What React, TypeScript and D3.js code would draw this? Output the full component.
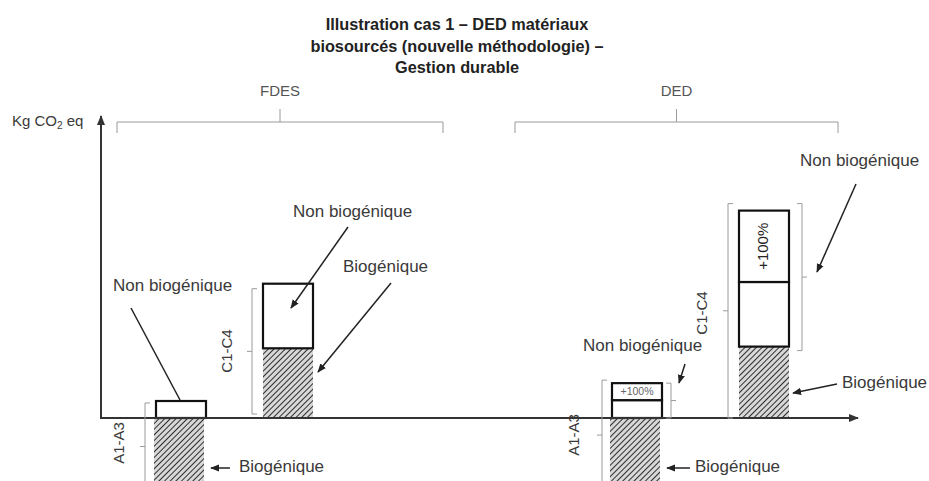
import React from 'react';
import * as d3 from 'd3';

// categories: phases grouped by declaration type
const groups = ['FDES', 'DED'];
const categories = ['FDES A1-A3', 'FDES C1-C4', 'DED A1-A3', 'DED C1-C4'];
const phaseLabels = ['A1-A3', 'C1-C4', 'A1-A3', 'C1-C4'];
// values in kg CO2 eq (illustrative)
const biogenic = [-4.2, 4.1, -4.2, 4.2];
const nonBiogenic = [1, 3.8, 1.05, 3.8];
const plus100 = [0, 0, 1, 4.2];
const titleLines = ['Illustration cas 1 – DED matériaux', 'biosourcés (nouvelle méthodologie) –', 'Gestion durable'];

const W = 929;
const H = 481;
const FONT = "'Liberation Sans', Arial, sans-serif";
const TXT = '#3a3a3a';
const GRAY = '#9a9a9a';

const App = () => {
  const x = d3.scaleOrdinal<string, number>().domain(categories).range([181, 288, 637, 764]);
  const y = d3.scaleLinear().domain([0, 17.5]).range([418, 120.5]);
  const gx = d3.scaleOrdinal<string, [number, number]>().domain(groups).range([[117, 443], [515, 838]]);
  const barW = 50;

  const bars = categories.map((c, i) => {
    const cx = x(c);
    const bio = biogenic[i];
    const base = bio > 0 ? bio : 0;
    const nbTop = base + nonBiogenic[i];
    const pTop = nbTop + plus100[i];
    return { c, i, cx, bio, base, nbTop, pTop };
  });

  // vertical bracket: serifs on one side, mid tick on the other
  const bracket = (bx: number, y0: number, y1: number, side: number, key: string) => {
    const m = (y0 + y1) / 2;
    const d = `M${bx + 5 * side},${y0}H${bx}V${y1}H${bx + 5 * side}M${bx},${m}H${bx - 5 * side}`;
    return <path key={key} d={d} fill="none" stroke={GRAY} strokeWidth={1} />;
  };

  const arrow = (x1: number, y1: number, x2: number, y2: number, key: string, head = true) => (
    <line key={key} x1={x1} y1={y1} x2={x2} y2={y2} stroke="#222" strokeWidth={1.5}
      markerEnd={head ? 'url(#ah)' : undefined} />
  );

  const label = (tx: number, ty: number, t: string, key: string, anchor = 'start') => (
    <text key={key} x={tx} y={ty} fontSize={17} fill={TXT} textAnchor={anchor} dominantBaseline="middle">{t}</text>
  );

  const [fA, fC, dA, dC] = bars;

  return (
    <svg width={W} height={H} style={{ position: 'absolute', left: 0, top: 0, background: '#fff' }}
      fontFamily={FONT}>
      <defs>
        <pattern id="hatch" width={4} height={4} patternUnits="userSpaceOnUse" patternTransform="rotate(45)">
          <rect width={4} height={4} fill="#d8d8d8" />
          <line x1={0} y1={0} x2={0} y2={4} stroke="#2e2e2e" strokeWidth={2} />
        </pattern>
        <marker id="ah" viewBox="0 0 10 10" refX={9} refY={5} markerWidth={6} markerHeight={6} orient="auto-start-reverse">
          <path d="M0,1L10,5L0,9z" fill="#222" />
        </marker>
        <marker id="axh" viewBox="0 0 10 10" refX={9} refY={5} markerWidth={5} markerHeight={5} orient="auto">
          <path d="M0,1L10,5L0,9z" fill="#333" />
        </marker>
      </defs>

      {/* title */}
      {titleLines.map((t, i) => (
        <text key={t} x={457} y={26 + i * 21.5} textAnchor="middle" dominantBaseline="middle"
          fontSize={16.3} fontWeight="bold" fill="#222">{t}</text>
      ))}

      {/* group braces */}
      {groups.map((g) => {
        const [a, b] = gx(g);
        const m = (a + b) / 2;
        return (
          <g key={g}>
            <text x={m} y={92} textAnchor="middle" dominantBaseline="middle" fontSize={15} fill="#555">{g}</text>
            <path d={`M${a},133V122H${b}V133M${m},122V109`} fill="none" stroke={GRAY} strokeWidth={1} />
          </g>
        );
      })}

      {/* y axis label */}
      <text x={12} y={122} fontSize={15} fill={TXT} dominantBaseline="middle">
        Kg CO<tspan fontSize={10} dy={4}>2</tspan><tspan dy={-4}> eq</tspan>
      </text>

      {/* bars */}
      {bars.map((b) => {
        const hx = b.cx - barW / 2 + (b.bio < 0 ? -2 : 0);
        const hy0 = y(Math.max(b.bio, 0));
        const hy1 = y(Math.min(b.bio, 0));
        const bx = b.cx - barW / 2;
        return (
          <g key={b.c}>
            <rect x={hx} y={hy0} width={barW} height={hy1 - hy0} fill="url(#hatch)" />
            <rect x={bx} y={y(b.nbTop)} width={barW} height={y(b.base) - y(b.nbTop)}
              fill="#fff" stroke="#111" strokeWidth={2.2} />
            {plus100[b.i] > 0 && (
              <rect x={bx} y={y(b.pTop)} width={barW} height={y(b.nbTop) - y(b.pTop)}
                fill="#fff" stroke="#111" strokeWidth={2.2} />
            )}
          </g>
        );
      })}

      {/* axes */}
      <line x1={101} y1={y(0)} x2={858} y2={y(0)} stroke="#333" strokeWidth={2} markerEnd="url(#axh)" />
      <line x1={101} y1={y(0) + 1} x2={101} y2={116} stroke="#333" strokeWidth={2} markerEnd="url(#axh)" />

      {/* +100% labels */}
      <text x={dA.cx} y={(y(dA.nbTop) + y(dA.pTop)) / 2 + 1} textAnchor="middle" dominantBaseline="middle"
        fontSize={10.5} fill="#666">+100%</text>
      <text transform={`translate(${dC.cx},${(y(dC.nbTop) + y(dC.pTop)) / 2}) rotate(-90)`} textAnchor="middle"
        dominantBaseline="middle" fontSize={15} fill="#222">+100%</text>

      {/* phase brackets */}
      {bracket(fA.cx - 36, y(fA.nbTop) + 2, 490, 1, 'b1')}
      {bracket(fC.cx - 36, y(fC.nbTop) + 5, 414, 1, 'b2')}
      {bracket(dA.cx - 35, y(dA.pTop) - 3, 490, 1, 'b3')}
      {bracket(dA.cx + 34, y(dA.pTop), 418, -1, 'b4')}
      {bracket(dC.cx - 36, y(dC.pTop) - 7, 418, 1, 'b5')}
      {bracket(dC.cx + 38, y(dC.pTop) - 7, y(dC.base) + 4, -1, 'b6')}

      {/* phase labels */}
      {bars.map((b, i) => {
        const lx = [120, 228, 575, 703][i];
        const ly = [443, 351, 435, 313][i];
        return (
          <text key={'p' + i} transform={`translate(${lx},${ly}) rotate(-90)`} textAnchor="middle"
            dominantBaseline="middle" fontSize={15} fill={TXT}>{phaseLabels[i]}</text>
        );
      })}

      {/* annotations */}
      {label(113, 287, 'Non biogénique', 'l1')}
      {arrow(131, 308, 180, 400, 'a1', false)}
      {label(293, 213, 'Non biogénique', 'l2')}
      {arrow(348, 227, 291, 308, 'a2')}
      {label(343, 268, 'Biogénique', 'l3')}
      {arrow(391, 283, 318, 372, 'a3')}
      {label(239, 468, 'Biogénique', 'l4')}
      {arrow(230, 468, 211, 468, 'a4')}

      {label(583, 347, 'Non biogénique', 'l5')}
      {arrow(685, 364, 679, 383, 'a5')}
      {label(800, 162, 'Non biogénique', 'l6')}
      {arrow(856, 184, 817, 272, 'a6')}
      {label(842, 384, 'Biogénique', 'l7')}
      {arrow(837, 384, 793, 393, 'a7')}
      {label(695, 468, 'Biogénique', 'l8')}
      {arrow(690, 468, 667, 468, 'a8')}
    </svg>
  );
};

export default App;
